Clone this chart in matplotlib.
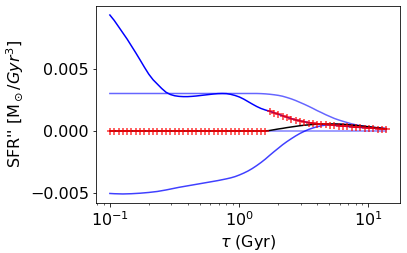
import numpy as np
import matplotlib
matplotlib.use('Agg')
import matplotlib.pyplot as plt

# lookback grid (Gyr)
tau = [0.100, 0.1080, 0.1167, 0.1260, 0.1361, 0.1470, 0.1588, 0.1715, 0.1852, 0.2000,
       0.2160, 0.2333, 0.2520, 0.2721, 0.2939, 0.3174, 0.3428, 0.3703, 0.3999, 0.4319,
       0.4665, 0.5038, 0.5441, 0.5877, 0.6347, 0.6855, 0.7403, 0.7996, 0.8636, 0.9328,
       1.007, 1.088, 1.175, 1.269, 1.371, 1.481, 1.599, 1.727, 1.865, 2.015,
       2.176, 2.350, 2.538, 2.741, 2.961, 3.198, 3.453, 3.730, 4.029, 4.351,
       4.699, 5.075, 5.482, 5.920, 6.394, 6.906, 7.458, 8.055, 8.700, 9.397,
       10.15, 10.96, 11.84, 12.79, 13.81]

# values in units of 1e-3
dark = [9.28, 8.85, 8.35, 7.85, 7.35, 6.80, 6.25, 5.68, 5.10, 4.55,
        4.10, 3.75, 3.40, 3.10, 2.92, 2.82, 2.77, 2.75, 2.75, 2.77,
        2.80, 2.84, 2.88, 2.92, 2.96, 2.99, 3.00, 2.99, 2.93, 2.84,
        2.72, 2.55, 2.35, 2.15, 1.96, 1.80, 1.68, 1.58, 1.46, 1.34,
        1.22, 1.10, 0.99, 0.89, 0.81, 0.74, 0.67, 0.62, 0.58, 0.55,
        0.52, 0.48, 0.45, 0.42, 0.39, 0.36, 0.33, 0.30, 0.28, 0.26,
        0.24, 0.22, 0.19, 0.17, 0.14]

upper = [3.00] * 35 + [2.99, 2.97, 2.94, 2.90, 2.85,
        2.78, 2.68, 2.57, 2.44, 2.29, 2.14, 1.98, 1.81, 1.63, 1.47,
        1.30, 1.15, 1.00, 0.88, 0.77, 0.67, 0.57, 0.49, 0.42, 0.36,
        0.31, 0.27, 0.24, 0.21, 0.19]

lower = [-5.00, -5.02, -5.03, -5.04, -5.03, -5.02, -5.00, -4.98, -4.95, -4.92,
         -4.88, -4.84, -4.78, -4.72, -4.65, -4.58, -4.51, -4.45, -4.39, -4.33,
         -4.27, -4.21, -4.15, -4.09, -4.03, -3.97, -3.90, -3.83, -3.75, -3.65,
         -3.52, -3.37, -3.20, -3.00, -2.77, -2.52, -2.25, -1.95, -1.66, -1.38,
         -1.10, -0.85, -0.62, -0.40, -0.20, -0.03, 0.12, 0.24, 0.34, 0.42,
         0.48, 0.52, 0.54, 0.54, 0.53, 0.51, 0.48, 0.45, 0.41, 0.37,
         0.33, 0.29, 0.26, 0.22, 0.19]

zero = [0.0] * 65

black = [0.0] * 37 + [0.04, 0.10, 0.16,
         0.21, 0.27, 0.32, 0.37, 0.42, 0.46, 0.49, 0.52, 0.54, 0.55,
         0.56, 0.56, 0.56, 0.55, 0.53, 0.50, 0.47, 0.44, 0.40, 0.37,
         0.33, 0.29, 0.25, 0.21, 0.17]

red = [0.0] * 37 + [1.58, 1.46, 1.34,
       1.22, 1.10, 0.99, 0.89, 0.81, 0.74, 0.67, 0.62, 0.58, 0.55,
       0.52, 0.48, 0.45, 0.42, 0.39, 0.36, 0.33, 0.30, 0.28, 0.26,
       0.24, 0.22, 0.19, 0.17, 0.14]

tau = np.array(tau)
s = 1e-3

plt.rcParams['font.size'] = 16

fig = plt.figure(figsize=(407 / 72, 253 / 72), dpi=72)
ax = fig.add_axes([0.236, 0.198, 0.747, 0.778])

ax.plot(tau, np.array(zero) * s, color='blue', alpha=0.5)
ax.plot(tau, np.array(upper) * s, color='blue', alpha=0.6)
ax.plot(tau, np.array(lower) * s, color='blue', alpha=0.75)
ax.plot(tau, np.array(dark) * s, color='blue')
ax.plot(tau, np.array(black) * s, color='black')
ax.plot(tau, np.array(red) * s, 'r+', ms=7, mew=1.5, alpha=0.8)

ax.set_xscale('log')
ax.set_yticks([-0.005, 0.0, 0.005])
ax.set_xlabel(r'$\tau$ (Gyr)')
ax.set_ylabel(r"SFR'' [M$_\odot/Gyr^3$]")

plt.savefig('out.png', dpi=72)
